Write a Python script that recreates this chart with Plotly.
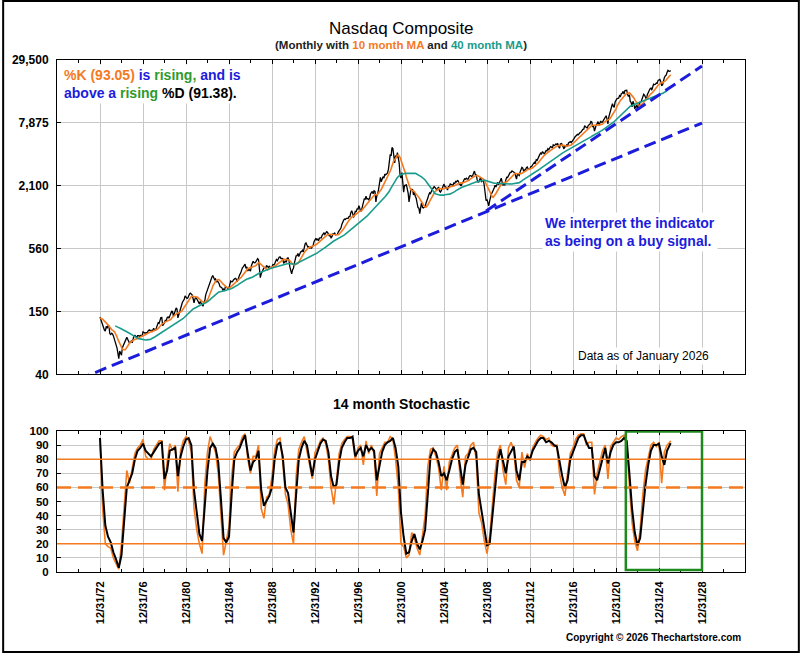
import pandas as pd
import plotly.graph_objects as go

# Nasdaq Composite, month-end closes from Feb 1971 to Jan 2026 (read off the chart / estimated)
nasdaq_close = [
    101.3, 105.9, 109.5, 106.0, 104.5, 100.9, 104.8, 105.1, 100.5, 99.8, 114.1,            # 1971 (Feb-Dec)
    119.4, 125.3, 128.1, 131.3, 130.7, 128.5, 127.7, 131.5, 129.6, 129.3, 133.3, 133.7,    # 1972
    126.9, 118.7, 117.5, 107.0, 101.1, 99.1, 109.9, 105.3, 111.2, 110.2, 93.9, 92.2,       # 1973
    94.9, 93.4, 89.7, 84.1, 76.5, 75.9, 69.9, 62.4, 55.7, 65.2, 62.0, 59.8,                # 1974
    70.1, 73.0, 75.7, 78.5, 83.1, 87.0, 83.6, 80.7, 76.9, 79.3, 80.9, 77.6,                # 1975
    87.0, 90.3, 90.6, 88.8, 87.0, 90.3, 90.3, 88.7, 90.8, 89.2, 90.3, 97.9,                # 1976
    96.2, 95.4, 95.4, 96.8, 96.6, 100.4, 101.8, 100.1, 100.9, 98.3, 103.6, 105.1,          # 1977
    100.7, 101.3, 106.2, 114.4, 118.2, 116.7, 123.6, 131.6, 132.0, 111.1, 114.8, 118.0,    # 1978
    125.8, 122.6, 131.8, 133.8, 130.3, 137.0, 139.2, 150.4, 149.9, 135.5, 143.8, 151.1,    # 1979
    161.8, 158.0, 131.0, 139.9, 150.5, 157.8, 171.8, 181.5, 187.8, 192.8, 208.2, 202.3,    # 1980
    197.8, 198.0, 210.2, 216.7, 220.5, 215.8, 211.6, 195.8, 180.0, 195.2, 201.4, 195.8,    # 1981
    188.4, 179.4, 175.7, 184.7, 178.5, 171.3, 167.4, 180.7, 187.7, 212.6, 225.3, 232.4,    # 1982
    248.4, 260.7, 270.8, 293.1, 308.7, 318.7, 303.9, 292.4, 296.7, 277.4, 285.7, 278.6,    # 1983
    268.4, 252.6, 250.8, 247.4, 235.8, 239.7, 230.8, 254.6, 249.9, 247.0, 242.5, 247.4,    # 1984
    278.7, 284.2, 279.2, 280.6, 290.8, 296.2, 301.3, 297.7, 280.3, 292.3, 313.9, 324.9,    # 1985
    335.8, 359.5, 374.7, 383.2, 394.2, 405.5, 371.7, 382.9, 350.7, 360.8, 359.6, 348.8,    # 1986
    392.1, 424.0, 430.1, 417.8, 416.4, 424.7, 434.9, 454.5, 444.3, 323.3, 305.2, 330.5,    # 1987
    344.7, 366.9, 374.6, 379.2, 370.3, 394.7, 387.3, 376.6, 387.7, 382.5, 371.5, 381.4,    # 1988
    401.3, 399.7, 406.7, 428.2, 446.2, 435.3, 453.8, 469.3, 472.9, 455.6, 456.1, 454.8,    # 1989
    410.7, 425.8, 435.5, 420.1, 458.0, 462.3, 438.2, 381.2, 344.5, 329.8, 359.1, 373.8,    # 1990
    414.2, 453.1, 482.3, 484.7, 506.1, 475.9, 502.0, 525.7, 526.9, 542.9, 523.9, 586.3,    # 1991
    620.2, 633.5, 603.8, 578.7, 585.3, 563.6, 580.8, 563.1, 583.3, 605.2, 652.7, 677.0,    # 1992
    696.3, 670.8, 690.1, 661.4, 700.5, 704.0, 704.7, 742.8, 763.0, 779.3, 754.4, 776.8,    # 1993
    800.5, 792.5, 743.5, 733.8, 735.2, 706.0, 722.2, 765.6, 764.3, 777.5, 750.3, 752.0,    # 1994
    755.2, 793.7, 817.2, 843.6, 864.6, 933.5, 1001.2, 1020.1, 1043.5, 1036.1, 1059.2, 1052.1,  # 1995
    1059.8, 1100.1, 1101.4, 1190.5, 1243.4, 1185.0, 1080.6, 1141.5, 1226.9, 1221.5, 1292.6, 1291.0,  # 1996
    1379.9, 1309.0, 1221.7, 1260.8, 1400.3, 1442.1, 1593.8, 1587.3, 1685.7, 1593.6, 1601.0, 1570.4,  # 1997
    1619.4, 1770.5, 1835.7, 1868.4, 1778.9, 1894.7, 1872.4, 1499.3, 1694.0, 1771.4, 1949.5, 2192.7,  # 1998
    2505.9, 2288.0, 2461.4, 2542.9, 2470.5, 2686.1, 2638.5, 2739.4, 2746.2, 2966.4, 3336.2, 4069.3,  # 1999
    3940.4, 4696.7, 4572.8, 3860.7, 3400.9, 3966.1, 3766.9, 4206.4, 3672.8, 3370.0, 2597.9, 2470.5,  # 2000
    2772.7, 2151.8, 1840.3, 2116.2, 2110.5, 2160.5, 2027.1, 1805.4, 1498.8, 1690.2, 1930.6, 1950.4,  # 2001
    1934.0, 1731.5, 1845.4, 1688.2, 1615.7, 1463.2, 1328.3, 1314.9, 1172.1, 1329.8, 1478.8, 1335.5,  # 2002
    1320.9, 1337.5, 1341.2, 1464.3, 1595.9, 1622.8, 1735.0, 1810.5, 1786.9, 1932.2, 1960.3, 2003.4,  # 2003
    2066.2, 2029.8, 1994.2, 1920.2, 1986.7, 2047.8, 1887.4, 1838.1, 1896.8, 1974.9, 2096.8, 2175.4,  # 2004
    2062.4, 2051.7, 1999.2, 1921.7, 2068.2, 2057.0, 2184.8, 2152.1, 2151.7, 2120.3, 2232.8, 2205.3,  # 2005
    2305.8, 2281.4, 2339.8, 2322.6, 2178.9, 2172.1, 2091.5, 2183.8, 2258.4, 2366.7, 2431.8, 2415.3,  # 2006
    2463.9, 2416.2, 2421.6, 2525.1, 2604.5, 2603.2, 2546.3, 2596.4, 2701.5, 2859.1, 2660.9, 2652.3,  # 2007
    2389.9, 2271.5, 2279.1, 2412.8, 2522.7, 2292.9, 2325.6, 2367.5, 2091.9, 1720.9, 1535.6, 1577.0,  # 2008
    1476.4, 1377.8, 1528.6, 1717.3, 1774.3, 1835.0, 1978.5, 2009.1, 2122.4, 2045.1, 2144.6, 2269.2,  # 2009
    2147.4, 2238.3, 2397.9, 2461.2, 2257.0, 2109.2, 2254.7, 2114.0, 2368.6, 2507.4, 2498.2, 2652.9,  # 2010
    2700.1, 2782.3, 2781.1, 2873.5, 2835.3, 2773.5, 2756.4, 2579.5, 2415.4, 2684.4, 2620.3, 2605.2,  # 2011
    2813.8, 2966.9, 3091.6, 3046.4, 2827.3, 2935.1, 2939.5, 3066.9, 3116.2, 2977.2, 3010.2, 3019.5,  # 2012
    3142.1, 3160.2, 3267.5, 3328.8, 3455.9, 3403.3, 3626.4, 3589.9, 3771.5, 3919.7, 4059.9, 4176.6,  # 2013
    4103.9, 4308.1, 4199.0, 4114.6, 4242.6, 4408.2, 4369.8, 4580.3, 4493.4, 4630.7, 4791.6, 4736.1,  # 2014
    4635.2, 4963.5, 4900.9, 4941.4, 5070.0, 4986.9, 5128.3, 4776.5, 4620.2, 5053.8, 5108.7, 5007.4,  # 2015
    4614.0, 4558.0, 4869.9, 4775.4, 4948.1, 4843.0, 5162.1, 5213.2, 5312.0, 5189.1, 5323.7, 5383.1,  # 2016
    5614.8, 5825.4, 5911.7, 6047.6, 6198.5, 6140.4, 6348.1, 6428.7, 6496.0, 6727.7, 6873.9, 6903.4,  # 2017
    7411.5, 7273.0, 7063.4, 7066.3, 7442.1, 7510.3, 7671.8, 8109.5, 8046.4, 7305.9, 7330.5, 6635.3,  # 2018
    7281.7, 7532.5, 7729.3, 8095.4, 7453.2, 8006.2, 8175.4, 7963.0, 7999.3, 8292.4, 8665.5, 8972.6,  # 2019
    9150.9, 8567.4, 7700.1, 8889.6, 9489.9, 10058.8, 10745.3, 11775.5, 11167.5, 10911.6, 12198.7, 12888.3,  # 2020
    13070.7, 13192.3, 13246.9, 13962.7, 13748.7, 14504.0, 14672.7, 15259.2, 14448.6, 15498.4, 15537.7, 15645.0,  # 2021
    14239.9, 13751.4, 14220.5, 12334.6, 12081.4, 11028.7, 12390.7, 11816.2, 10575.6, 10988.2, 11468.0, 10466.5,  # 2022
    11584.6, 11455.5, 12221.9, 12226.6, 12935.3, 13787.9, 14346.0, 14035.0, 13219.3, 12851.2, 14226.2, 15011.4,  # 2023
    15164.0, 16091.9, 16379.5, 15657.8, 16735.0, 17732.6, 17599.4, 17713.6, 18189.2, 18095.2, 19218.2, 19310.8,  # 2024
    19627.4, 18847.3, 17299.3, 17446.3, 19113.8, 20369.7, 21122.5, 21455.6, 22660.0, 23725.0, 23365.7, 23242.0,  # 2025
    23700.0,                                                                                # 2026 (Jan)
]

# 14 month stochastic, quarter-ends from Dec 1972 to Dec 2025, then Jan 2026
stoch_k = [
    95,
    45, 20, 18, 17,  10, 6, 2, 20,  50, 72, 63, 74,  84, 88, 90, 94,  82, 80, 80, 87,     # 73-77
    90, 93, 93, 58,  78, 91, 86, 90,  57, 86, 93, 96,  93, 85, 45, 30,  20, 13, 62, 85,   # 78-82
    96, 90, 85, 70,  38, 12, 22, 32,  68, 85, 88, 90,  96, 98, 80, 70,  82, 82, 90, 45,   # 83-87
    38, 53, 55, 68,  86, 94, 95, 78,  55, 48, 30, 20,  68, 87, 92, 96,  86, 75, 66, 85,   # 88-92
    88, 93, 95, 91,  80, 60, 48, 65,  84, 91, 94, 96,  96, 94, 80, 88,  90, 76, 93, 84,   # 93-97
    90, 84, 54, 84,  88, 92, 92, 96,  94, 80, 60, 20,  18, 10, 12, 28,  24, 17, 12, 25,   # 98-02
    40, 75, 87, 88,  82, 74, 58, 75,  58, 78, 83, 88,  90, 68, 53, 82,  84, 90, 92, 80,   # 03-07
    42, 35, 22, 13,  25, 48, 70, 85,  90, 72, 62, 88,  92, 86, 65, 60,  85, 74, 84, 79,   # 08-12
    88, 92, 95, 97,  96, 94, 95, 90,  89, 90, 70, 60,  54, 70, 84, 88,  94, 97, 98, 98,   # 13-17
    90, 92, 92, 55,  70, 78, 86, 90,  66, 89, 92, 95,  94, 96, 97, 90,  62, 35, 22, 15,   # 18-22
    30, 55, 72, 82,  90, 92, 89, 92,  63, 85, 90, 92,                                     # 23-25
    93.05,
]
stoch_d = [
    95,
    58, 33, 25, 21,  14, 9, 3, 12,  38, 60, 65, 70,  80, 86, 88, 91,  86, 84, 82, 85,     # 73-77
    88, 91, 92, 66,  72, 86, 87, 88,  68, 82, 89, 94,  95, 90, 58, 42,  27, 22, 45, 72,   # 78-82
    88, 91, 88, 78,  52, 24, 21, 25,  55, 80, 85, 88,  93, 97, 84, 72,  78, 80, 86, 58,   # 83-87
    47, 50, 54, 60,  80, 90, 92, 82,  60, 56, 40, 28,  55, 80, 88, 93,  90, 80, 68, 80,   # 88-92
    85, 91, 94, 93,  85, 68, 60, 62,  78, 88, 92, 95,  95, 96, 82, 86,  88, 82, 90, 86,   # 93-97
    88, 86, 65, 76,  85, 90, 92, 93,  95, 88, 75, 42,  25, 13, 14, 22,  27, 20, 16, 22,   # 98-02
    30, 55, 82, 87,  85, 78, 68, 70,  65, 72, 80, 85,  87, 75, 62, 76,  82, 87, 88, 85,   # 03-07
    55, 42, 30, 19,  20, 38, 58, 78,  87, 78, 70, 82,  86, 89, 72, 65,  78, 78, 82, 80,   # 08-12
    86, 90, 93, 95,  95, 92, 93, 92,  90, 89, 78, 68,  60, 65, 80, 85,  91, 95, 97, 97,   # 13-17
    92, 88, 88, 68,  65, 73, 82, 88,  77, 85, 90, 92,  92, 93, 95, 93,  70, 45, 28, 19,   # 18-22
    24, 45, 62, 76,  86, 90, 90, 91,  82, 76, 86, 90,                                     # 23-25
    91.38,
]

# trend lines drawn on the price panel
trend_long_dates = ["1970-12-31", "2028-12-31"]
trend_long_vals = [36, 7850]
trend_short_dates = ["2008-11-30", "2028-12-31"]
trend_short_vals = [1236, 26000]

stoch_levels = [80, 20]
stoch_mid_level = 60
signal_box_dates = ["2021-11-30", "2028-12-31"]
signal_box_vals = [1.5, 99.6]

price_ticks = [40, 150, 560, 2100, 7875, 29500]
price_tick_text = ["40", "150", "560", "2,100", "7,875", "29,500"]
tick_years = list(range(1972, 2029, 4))

ORANGE = "#F47A1F"
TEAL = "#1A9C8C"
BLUE = "#1C1CDC"
GREEN = "#2E9A2E"
GRID = "#C8C8C8"
FONT = "Arial, Liberation Sans, sans-serif"

try:
    price_dates = pd.date_range("1971-02-28", periods=len(nasdaq_close), freq="ME")
    stoch_dates = pd.date_range("1972-12-31", "2025-12-31", freq="QE")
except ValueError:
    price_dates = pd.date_range("1971-02-28", periods=len(nasdaq_close), freq="M")
    stoch_dates = pd.date_range("1972-12-31", "2025-12-31", freq="Q")
stoch_dates = list(stoch_dates) + [pd.Timestamp("2026-01-31")]

df = pd.DataFrame({"close": nasdaq_close}, index=price_dates)
df["ma10"] = df["close"].rolling(10).mean()
df["ma40"] = df["close"].rolling(40).mean()
shown = df.loc["1972-12-01":]

fig = go.Figure()
fig.add_trace(go.Scatter(x=shown.index, y=shown["close"], mode="lines",
                         line=dict(color="black", width=1.3), xaxis="x2", yaxis="y"))
fig.add_trace(go.Scatter(x=shown.index, y=shown["ma10"], mode="lines",
                         line=dict(color=ORANGE, width=1.6), xaxis="x2", yaxis="y"))
fig.add_trace(go.Scatter(x=shown.index, y=shown["ma40"], mode="lines",
                         line=dict(color=TEAL, width=1.6), xaxis="x2", yaxis="y"))
for dts, vals in [(trend_long_dates, trend_long_vals), (trend_short_dates, trend_short_vals)]:
    fig.add_trace(go.Scatter(x=dts, y=vals, mode="lines",
                             line=dict(color=BLUE, width=3, dash="12px,6px"), xaxis="x2", yaxis="y"))

fig.add_trace(go.Scatter(x=stoch_dates, y=stoch_k, mode="lines",
                         line=dict(color=ORANGE, width=1.6), xaxis="x", yaxis="y2"))
fig.add_trace(go.Scatter(x=stoch_dates, y=stoch_d, mode="lines",
                         line=dict(color="black", width=2), xaxis="x", yaxis="y2"))

tick_dates = [f"{y}-12-31" for y in tick_years]
tick_text = [f"12/31/{y % 100:02d}" for y in tick_years]

xbase = dict(type="date", range=["1968-12-31", "2032-12-31"], tickmode="array", tickvals=tick_dates,
             showgrid=True, gridcolor=GRID, gridwidth=1, zeroline=False,
             showline=True, linecolor="black", linewidth=1, mirror="ticks",
             ticks="inside", ticklen=4, tickcolor="black",
             minor=dict(tickmode="linear", tick0="1968-12-31", dtick="M24", ticks="inside",
                        ticklen=3, tickcolor="black", showgrid=False))
ybase = dict(showline=True, linecolor="black", linewidth=1, zeroline=False,
             ticks="inside", ticklen=4, tickcolor="black", ticklabelstandoff=5,
             tickfont=dict(family=FONT, size=12, color="black", weight="bold"))

log_range = [1.60206, 4.469822]

fig.update_layout(
    width=800, height=653,
    margin=dict(l=55, r=55, t=60, b=81),
    paper_bgcolor="white", plot_bgcolor="white",
    showlegend=False,
    xaxis=dict(xbase, anchor="y2", domain=[0, 1], ticktext=tick_text, tickangle=-90,
               ticklabelstandoff=4,
               tickfont=dict(family=FONT, size=11, color="black", weight="bold")),
    xaxis2=dict(xbase, anchor="y", matches="x", showticklabels=False),
    yaxis=dict(ybase, type="log", range=log_range, domain=[0.386, 1], anchor="x2",
               tickmode="array", tickvals=price_ticks, ticktext=price_tick_text,
               showgrid=True, gridcolor=GRID, mirror=True),
    yaxis3=dict(ybase, type="log", range=log_range, overlaying="y", side="right", anchor="x2",
                tickmode="array", tickvals=price_ticks, ticktext=price_tick_text, showgrid=False),
    yaxis2=dict(ybase, range=[0, 100], domain=[0, 0.2754], anchor="x",
                dtick=10, tick0=0, showgrid=True, gridcolor=GRID, mirror=True,
                tickfont=dict(family=FONT, size=11.5, color="black", weight="bold")),
    yaxis4=dict(ybase, range=[0, 100], overlaying="y2", side="right", anchor="x",
                dtick=10, tick0=0, showgrid=False,
                minor=dict(dtick=2, ticks="inside", ticklen=2, tickcolor="black", showgrid=False),
                tickfont=dict(family=FONT, size=11.5, color="black", weight="bold")),
)

shapes = []
for lvl in stoch_levels:
    shapes.append(dict(type="line", xref="x domain", yref="y2", x0=0, x1=1, y0=lvl, y1=lvl,
                       line=dict(color=ORANGE, width=1.5)))
shapes.append(dict(type="line", xref="x domain", yref="y2", x0=0, x1=1,
                   y0=stoch_mid_level, y1=stoch_mid_level,
                   line=dict(color=ORANGE, width=2.5, dash="14px,7px")))
shapes.append(dict(type="rect", xref="x", yref="y2",
                   x0=signal_box_dates[0], x1=signal_box_dates[1],
                   y0=signal_box_vals[0], y1=signal_box_vals[1],
                   line=dict(color="#1E8A1E", width=2.5)))
# outer frame round the whole picture
shapes.append(dict(type="rect", xref="paper", yref="paper",
                   x0=-54 / 690, x1=1 + 54 / 690, y0=-80 / 512, y1=1 + 59 / 512,
                   line=dict(color="black", width=2)))
fig.update_layout(shapes=shapes)

k_now, d_now = stoch_k[-1], stoch_d[-1]
sig_text = (f"<span style='color:{ORANGE}'>%K ({k_now:.2f})</span> "
            f"<span style='color:{BLUE}'>is</span> <span style='color:{GREEN}'>rising,</span> "
            f"<span style='color:{BLUE}'>and is</span><br>"
            f"<span style='color:{BLUE}'>above a</span> <span style='color:{GREEN}'>rising</span> "
            f"<span style='color:black'>%D ({d_now:.2f}).</span>")
sub_text = (f"(Monthly with <span style='color:{ORANGE}'>10 month MA</span> and "
            f"<span style='color:{TEAL}'>40 month MA</span>)")

annotations = [
    dict(text="Nasdaq Composite", x=0.5, y=1.0625, font=dict(size=17, color="black")),
    dict(text=sub_text, x=0.5, y=1.0293, font=dict(size=11.5, color="#222", weight="bold")),
    dict(text=sig_text, x=0.006, y=0.993, xanchor="left", yanchor="top", align="left",
         bgcolor="white", borderpad=2, font=dict(size=14, weight="bold")),
    dict(text="We interpret the indicator<br>as being on a buy signal.", x=0.705, y=0.703,
         xanchor="left", yanchor="top", align="left", bgcolor="white", borderpad=2,
         font=dict(size=14, color=BLUE, weight="bold")),
    dict(text="Data as of January 2026", x=0.951, y=0.422, xanchor="right", bgcolor="white",
         font=dict(size=12, color="black")),
    dict(text="14 month Stochastic", x=0.5, y=0.328, font=dict(size=14, color="black", weight="bold")),
    dict(text="Copyright © 2026 Thechartstore.com", x=0.997, y=-0.127, xanchor="right",
         font=dict(size=10, color="black", weight="bold")),
]
for a in annotations:
    a.setdefault("xref", "paper")
    a.setdefault("yref", "paper")
    a.setdefault("showarrow", False)
    a.setdefault("yanchor", "middle")
    a["font"].setdefault("family", FONT)
fig.update_layout(annotations=annotations)

fig.write_html("out.html", config={"displayModeBar": False},
               post_script="document.body.style.margin='0';")
